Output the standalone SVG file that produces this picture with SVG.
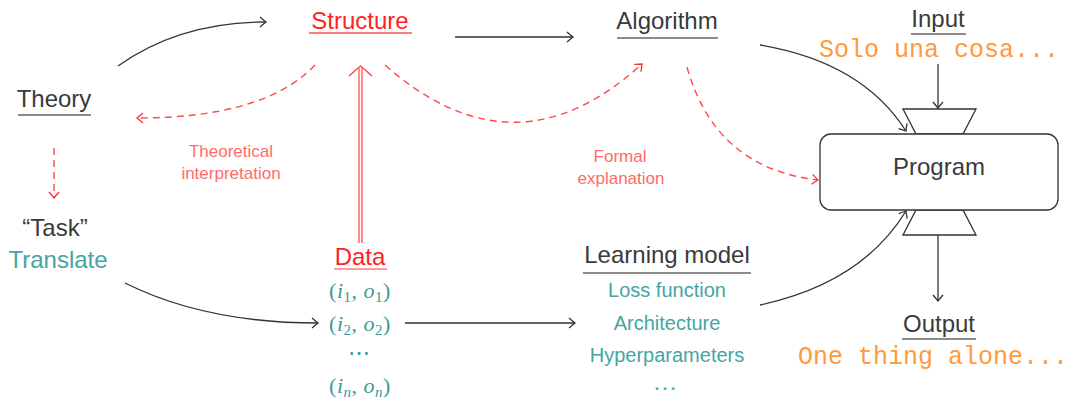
<svg xmlns="http://www.w3.org/2000/svg" width="1082" height="400" viewBox="0 0 1082 400">
<style>
  .h { font-family: "Liberation Sans", Arial, sans-serif; font-size: 24px; fill: #3a3a3a; text-anchor: middle; }
  .red { fill: #ff1f1f; }
  .teal { font-family: "Liberation Sans", Arial, sans-serif; font-size: 20px; fill: #45a5a2; text-anchor: middle; }
  .lbl { font-family: "Liberation Sans", Arial, sans-serif; font-size: 17px; fill: #ff6b6b; text-anchor: middle; }
  .mono { font-family: "Liberation Mono", "Courier New", monospace; font-size: 25px; fill: #ff9a3c; text-anchor: middle; }
  .math { font-family: "Liberation Serif", "Times New Roman", serif; font-size: 22px; fill: #3a9a98; text-anchor: middle; letter-spacing: 0.5px; }
  .ul { stroke: #666; stroke-width: 1.6; }
  .ulr { stroke: #ff5050; stroke-width: 1.6; }
  .solid { fill: none; stroke: #333; stroke-width: 1.3; marker-end: url(#ah); }
  .dash { fill: none; stroke: #ff4a4a; stroke-width: 1.4; stroke-dasharray: 7 5; marker-end: url(#ahr); }
  .shape { fill: #fff; stroke: #333; stroke-width: 1.3; }
</style>
<defs>
  <marker id="ah" viewBox="-8 -6 10 12" refX="0" refY="0" markerWidth="10" markerHeight="12" markerUnits="userSpaceOnUse" orient="auto">
    <path d="M-6,-5 Q-1.5,-1.2 0,0 Q-1.5,1.2 -6,5" fill="none" stroke="#333" stroke-width="1.3"/>
  </marker>
  <marker id="ahr" viewBox="-8 -6 10 12" refX="0" refY="0" markerWidth="10" markerHeight="12" markerUnits="userSpaceOnUse" orient="auto">
    <path d="M-6,-5 Q-1.5,-1.2 0,0 Q-1.5,1.2 -6,5" fill="none" stroke="#ff3030" stroke-width="1.3"/>
  </marker>
</defs>

<g id="connectors">
  <path class="solid" d="M118,66 Q180,22 266,22"/>
  <path class="solid" d="M455,37 L573,37"/>
  <path class="solid" d="M760,45 Q862,62 906,131"/>
  <path class="solid" d="M760,305 Q862,283 906,211"/>
  <path class="solid" d="M938,64 L938,108"/>
  <path class="solid" d="M938,235 L938,301"/>
  <path class="solid" d="M125,283 Q205,323 318,323"/>
  <path class="solid" d="M405,323 L575,323"/>
  <path class="dash" d="M315,65 Q265,118 137,118"/>
  <path class="dash" d="M385,65 Q515,180 642,64"/>
  <path class="dash" d="M687,67 Q715,168 818,180"/>
  <path class="dash" d="M54,148 L54,198"/>
  <g id="double-arrow" fill="none" stroke="#ff3030" stroke-width="1.1">
    <line x1="359" y1="243" x2="359" y2="68"/>
    <line x1="362" y1="243" x2="362" y2="68"/>
    <path d="M349,76 Q358,68 360.5,66 Q363,68 372,76"/>
  </g>
</g>

<g id="theory">
  <text class="h" x="54" y="107">Theory</text>
  <line class="ul" x1="18" y1="115" x2="91" y2="115"/>
</g>

<g id="structure">
  <text class="h red" x="360" y="29">Structure</text>
  <line class="ulr" x1="309" y1="33" x2="412" y2="33"/>
</g>

<g id="algorithm">
  <text class="h" x="667" y="29">Algorithm</text>
  <line class="ul" x1="617" y1="38" x2="718" y2="38"/>
</g>

<g id="input">
  <text class="h" x="938" y="27">Input</text>
  <line class="ul" x1="911" y1="34" x2="966" y2="34"/>
  <text class="mono" x="939" y="57">Solo una cosa...</text>
</g>

<g id="program">
  <polygon class="shape" points="903,109 976,109 963,134 916,134"/>
  <polygon class="shape" points="916,210 963,210 976,235 903,235"/>
  <rect class="shape" x="820" y="134" width="238" height="76" rx="11" ry="11"/>
  <text class="h" x="939" y="175">Program</text>
</g>

<g id="output">
  <text class="h" x="939" y="332">Output</text>
  <line class="ul" x1="902" y1="339" x2="976" y2="339"/>
  <text class="mono" x="933" y="364">One thing alone...</text>
</g>

<g id="theoretical-label">
  <text class="lbl" x="231" y="157">Theoretical</text>
  <text class="lbl" x="231" y="179">interpretation</text>
</g>

<g id="formal-label">
  <text class="lbl" x="620" y="162">Formal</text>
  <text class="lbl" x="621" y="184">explanation</text>
</g>

<g id="task">
  <text class="h" x="55" y="236">“Task”</text>
  <text class="h" x="58" y="268" style="fill:#45a5a2">Translate</text>
</g>

<g id="data">
  <text class="h red" x="360" y="265">Data</text>
  <line class="ulr" x1="334" y1="269" x2="387" y2="269" style="stroke:#ff7a7a"/>
  <text class="math" x="360" y="298">(<tspan font-style="italic">i</tspan><tspan font-size="15" dy="4">1</tspan><tspan dy="-4">, </tspan><tspan font-style="italic">o</tspan><tspan font-size="15" dy="4">1</tspan><tspan dy="-4">)</tspan></text>
  <text class="math" x="360" y="331">(<tspan font-style="italic">i</tspan><tspan font-size="15" dy="4">2</tspan><tspan dy="-4">, </tspan><tspan font-style="italic">o</tspan><tspan font-size="15" dy="4">2</tspan><tspan dy="-4">)</tspan></text>
  <text class="math" x="359" y="360" font-size="22">⋯</text>
  <text class="math" x="360" y="393">(<tspan font-style="italic">i</tspan><tspan font-size="15" font-style="italic" dy="4">n</tspan><tspan dy="-4">, </tspan><tspan font-style="italic">o</tspan><tspan font-size="15" font-style="italic" dy="4">n</tspan><tspan dy="-4">)</tspan></text>
</g>

<g id="learning-model">
  <text class="h" x="667" y="263">Learning model</text>
  <line class="ul" x1="583" y1="273" x2="751" y2="273"/>
  <text class="teal" x="667" y="297">Loss function</text>
  <text class="teal" x="667" y="330">Architecture</text>
  <text class="teal" x="667" y="362">Hyperparameters</text>
  <text class="teal" x="665" y="390" style="font-family:'Liberation Serif',serif;font-size:24px">…</text>
</g>
</svg>
